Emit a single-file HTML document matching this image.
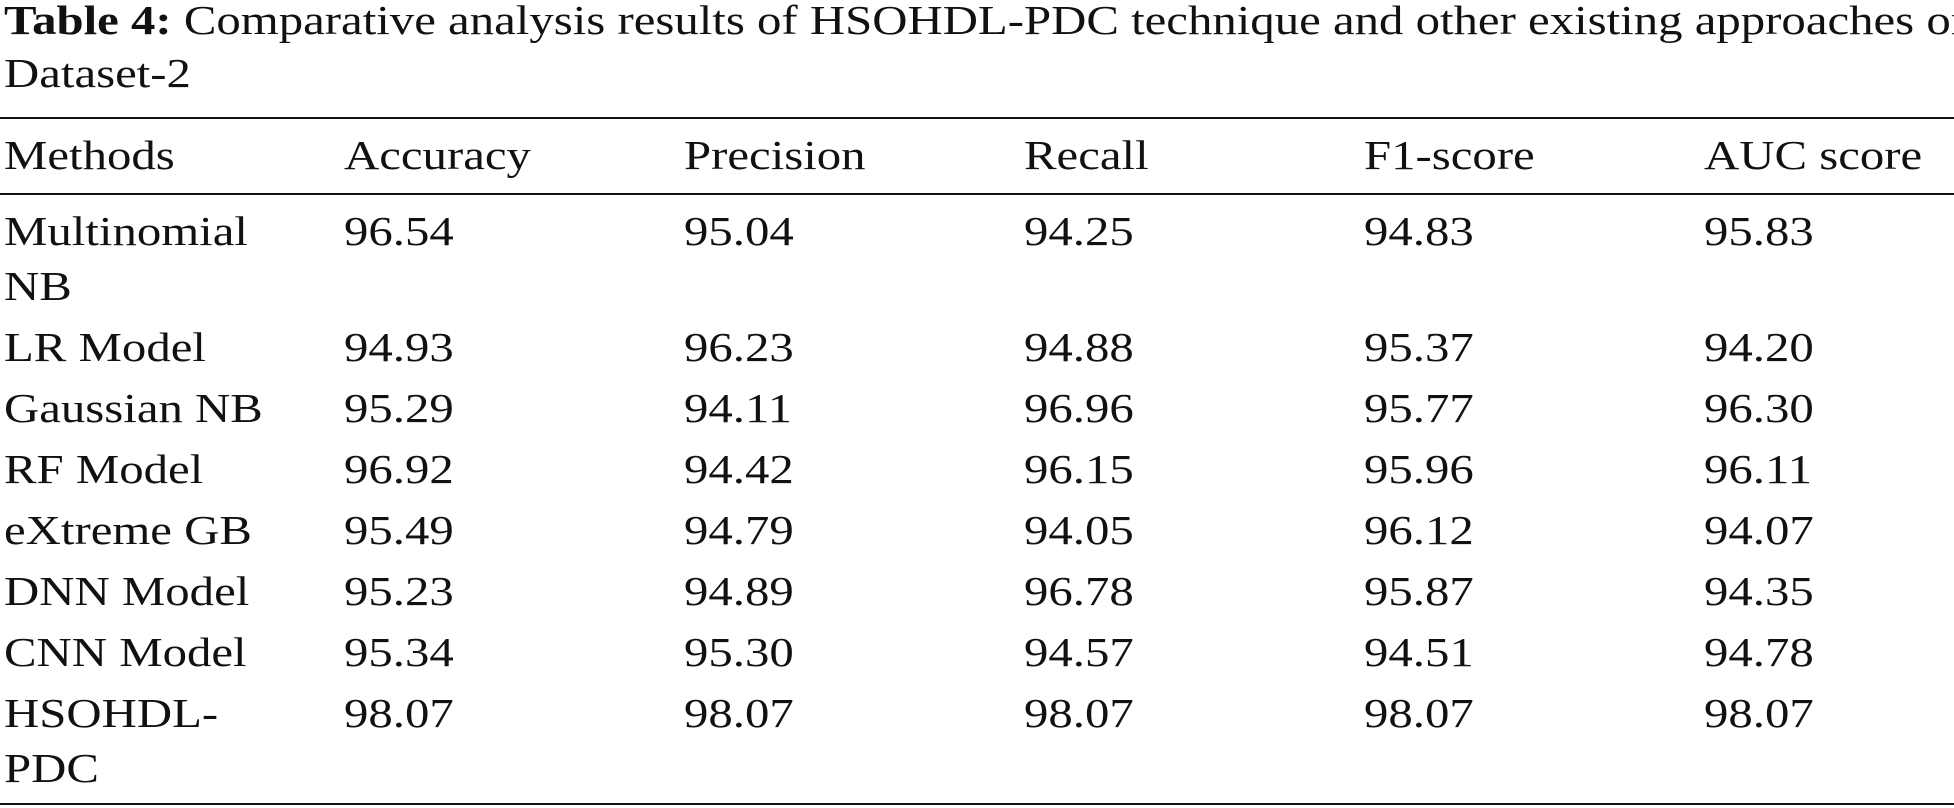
<!DOCTYPE html>
<html><head><meta charset="utf-8"><style>
html,body{margin:0;padding:0;background:#fff;}
body{width:1954px;height:808px;position:relative;overflow:hidden;font-family:"Liberation Serif",serif;color:#111;font-size:41px;}
.t{position:absolute;line-height:41px;white-space:nowrap;transform:scaleX(1.19);transform-origin:0 50%;}
.rule{position:absolute;left:0;width:1954px;height:2px;background:#111;}
</style></head><body>
<div class="t" style="left:4px;top:0px;"><b>Table 4:</b> Comparative analysis results of HSOHDL-PDC technique and other existing approaches on</div>
<div class="t" style="left:4px;top:53px;">Dataset-2</div>
<div class="rule" style="top:117px;"></div>
<div class="rule" style="top:193px;"></div>
<div class="rule" style="top:803px;"></div>
<div id="tbl"></div>
<script>
const headers=["Methods","Accuracy","Precision","Recall","F1-score","AUC score"];
const methods=[["Multinomial","NB"],["LR Model"],["Gaussian NB"],["RF Model"],["eXtreme GB"],["DNN Model"],["CNN Model"],["HSOHDL-","PDC"]];
const accuracy=["96.54","94.93","95.29","96.92","95.49","95.23","95.34","98.07"];
const precision=["95.04","96.23","94.11","94.42","94.79","94.89","95.30","98.07"];
const recall=["94.25","94.88","96.96","96.15","94.05","96.78","94.57","98.07"];
const f1=["94.83","95.37","95.77","95.96","96.12","95.87","94.51","98.07"];
const auc=["95.83","94.20","96.30","96.11","94.07","94.35","94.78","98.07"];
const colX=[4,344,684,1024,1364,1704];
const rowY=[233,349,410,471,532,593,654,715];
const tbl=document.getElementById('tbl');
function cell(txt,x,cy,name){
  const d=document.createElement('div');
  d.className='t';
  
  
  d.style.left=x+'px';d.style.top=(cy-22)+'px';
  d.textContent=txt;tbl.appendChild(d);
}
headers.forEach((h,i)=>cell(h,colX[i],157,'header-'+h.toLowerCase().replace(/\s+/g,'-')));
const cols=[accuracy,precision,recall,f1,auc];
methods.forEach((m,r)=>{
  m.forEach((line,k)=>cell(line,colX[0],rowY[r]+k*55,'method-name'));
  cols.forEach((c,ci)=>cell(c[r],colX[ci+1],rowY[r],'value-'+headers[ci+1].toLowerCase().replace(/\s+/g,'-')));
});
</script>
</body></html>
